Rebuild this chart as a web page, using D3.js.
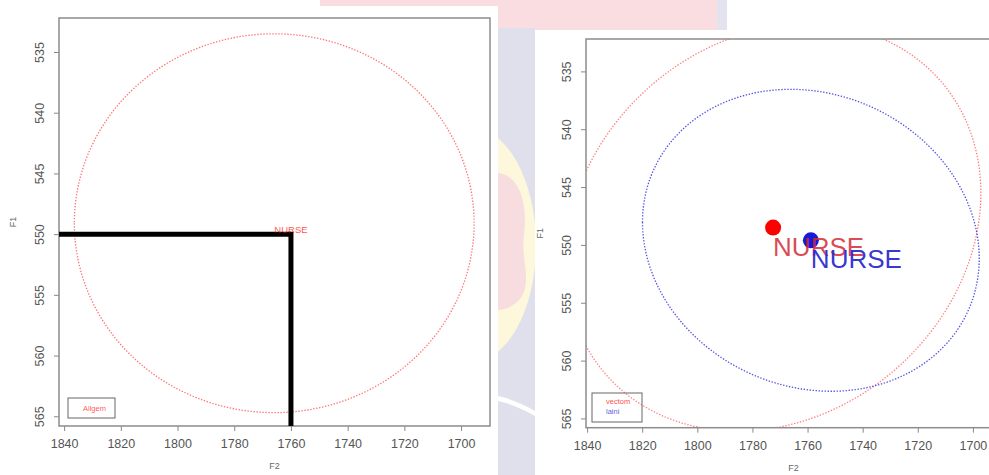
<!DOCTYPE html>
<html>
<head>
<meta charset="utf-8">
<script src="https://cdn.jsdelivr.net/npm/d3@7"></script>
<style>
  body { margin: 0; background: #fff; }
  svg { display: block; font-family: "Liberation Sans", Arial, sans-serif; }
</style>
</head>
<body>
<svg id="chart" width="989" height="475"></svg>
<script>
// ---- data ----
const f2Ticks = [1840, 1820, 1800, 1780, 1760, 1740, 1720, 1700];
const f1Ticks = [535, 540, 545, 550, 555, 560, 565];

// left panel: one speaker, NURSE vowel
const leftSpeakers = ["Allgem"];
const leftColors = ["#ff0000"];
const leftVowel = ["NURSE"];
const leftMeanF2 = [1760];
const leftMeanF1 = [550];
const leftEllF2 = [1765.9];   // ellipse centre
const leftEllF1 = [549.1];
const leftSdF2 = [70.5];      // ellipse half-extent along F2
const leftSdF1 = [15.6];      // ellipse half-extent along F1
const leftCorr = [0];

// right panel: two speakers, NURSE vowel
const rightSpeakers = ["vectom", "laini"];
const rightColors = ["#ff0000", "#1a1ad6"];
const rightTextColors = ["#d42a35", "#2b2bd0"];
const rightVowel = ["NURSE", "NURSE"];
const rightMeanF2 = [1772.5, 1758.8];
const rightMeanF1 = [548.5, 549.6];
const rightSdF2 = [75.4, 61.1];
const rightSdF1 = [17.6, 13.05];
const rightCorr = [0.17, -0.12];

const svg = d3.select("#chart");

// ---- backdrop ----
const bg = svg.append("g");
bg.append("rect").attr("x", 320).attr("y", 0).attr("width", 397).attr("height", 30).attr("fill", "#f9dde0");
bg.append("rect").attr("x", 717).attr("y", 0).attr("width", 10).attr("height", 30).attr("fill", "#e2e3ee");
bg.append("rect").attr("x", 498).attr("y", 28).attr("width", 37).attr("height", 447).attr("fill", "#dfe0eb");
bg.append("defs").append("clipPath").attr("id", "stripClip")
  .append("rect").attr("x", 498).attr("y", 28).attr("width", 37).attr("height", 447);
const strip = bg.append("g").attr("clip-path", "url(#stripClip)");
strip.append("ellipse").attr("cx", 470).attr("cy", 245).attr("rx", 66).attr("ry", 118).attr("fill", "#fdf8dc");
strip.append("path")
  .attr("d", "M498,173 C520,175 528,205 524,235 C521,258 530,275 524,292 C518,306 505,310 498,310 Z")
  .attr("fill", "#f8dde0");
strip.append("path")
  .attr("d", "M498,396 C512,399 525,405 535,411 L535,416 C525,410 512,404 498,401 Z")
  .attr("fill", "#ffffff");
bg.append("rect").attr("x", 0).attr("y", 6).attr("width", 498).attr("height", 469).attr("fill", "#fff");
bg.append("rect").attr("x", 535).attr("y", 30).attr("width", 454).attr("height", 445).attr("fill", "#fff");

// ---- helpers ----
function ellipsePoints(cf2, cf1, a, b, r) {
  const s = Math.sqrt(1 - r * r);
  return d3.range(0, 360, 2).map(deg => {
    const t = deg * Math.PI / 180;
    return [cf2 + a * Math.cos(t), cf1 + b * (r * Math.cos(t) + s * Math.sin(t))];
  });
}

function drawPanel(cfg) {
  const x = d3.scaleLinear().domain(cfg.xDomain).range(cfg.xRange);
  const y = d3.scaleLinear().domain([532.2, 565.8]).range(cfg.yRange);
  const [x0, x1] = cfg.xRange, [y0, y1] = cfg.yRange;
  const g = svg.append("g");

  const clipId = "clip" + cfg.id;
  g.append("defs").append("clipPath").attr("id", clipId)
    .append("rect").attr("x", x0).attr("y", y0).attr("width", x1 - x0).attr("height", y1 - y0);

  // axes
  const xAxis = g.append("g").attr("transform", `translate(0,${y1})`)
    .call(d3.axisBottom(x).tickValues(f2Ticks).tickFormat(d3.format("d")).tickSize(5).tickSizeOuter(0));
  const yAxis = g.append("g").attr("transform", `translate(${x0},0)`)
    .call(d3.axisLeft(y).tickValues(f1Ticks).tickFormat(d3.format("d")).tickSize(5).tickSizeOuter(0));
  [xAxis, yAxis].forEach(ax => {
    ax.select(".domain").remove();
    ax.selectAll(".tick line").attr("stroke", "#888");
    ax.selectAll("text").attr("fill", "#555").style("font-size", "12.5px");
  });
  xAxis.selectAll("text").attr("y", 13);
  yAxis.selectAll("text")
    .attr("x", null).attr("dy", "0.35em").attr("text-anchor", "middle")
    .attr("transform", "translate(-19,0) rotate(-90)");

  // axis titles
  g.append("text").attr("x", (x0 + x1) / 2).attr("y", y1 + 43).attr("text-anchor", "middle")
    .attr("fill", "#666").style("font-size", "9px").text("F2");
  g.append("text").attr("transform", `translate(${x0 - 46},${(y0 + y1) / 2}) rotate(-90)`)
    .attr("text-anchor", "middle").attr("dy", "0.35em").attr("fill", "#666").style("font-size", "9px").text("F1");

  const plot = g.append("g").attr("clip-path", `url(#${clipId})`);
  const line = d3.line().x(d => x(d[0])).y(d => y(d[1])).curve(d3.curveLinearClosed);

  // ellipses
  cfg.ellipses.forEach(e => {
    plot.append("path").attr("d", line(ellipsePoints(e.f2, e.f1, e.a, e.b, e.r)))
      .attr("fill", "none").attr("stroke", e.color).attr("stroke-width", 1.3)
      .attr("stroke-opacity", e.opacity).attr("stroke-dasharray", "1.4 1.6");
  });

  // box
  g.append("rect").attr("x", x0).attr("y", y0).attr("width", x1 - x0).attr("height", y1 - y0)
    .attr("fill", "none").attr("stroke", "#8c8c8c").attr("stroke-width", 1.5);

  return { g, plot, x, y };
}

// ---- left panel ----
const L = drawPanel({
  id: "L", xDomain: [1841.8, 1689.8], xRange: [59, 490], yRange: [18, 426],
  ellipses: leftSpeakers.map((s, i) => ({
    f2: leftEllF2[i], f1: leftEllF1[i], a: leftSdF2[i], b: leftSdF1[i], r: leftCorr[i],
    color: leftColors[i], opacity: 0.55
  }))
});

// reference lines from the axes to the NURSE mean
leftMeanF2.forEach((m, i) => {
  L.g.append("line")
    .attr("x1", L.x(L.x.domain()[0])).attr("x2", L.x(m))
    .attr("y1", L.y(leftMeanF1[i])).attr("y2", L.y(leftMeanF1[i]))
    .attr("stroke", "#000").attr("stroke-width", 5);
  L.g.append("line")
    .attr("x1", L.x(m)).attr("x2", L.x(m))
    .attr("y1", L.y(leftMeanF1[i]) - 2.5).attr("y2", L.y(L.y.domain()[1]))
    .attr("stroke", "#000").attr("stroke-width", 5);
  L.g.append("text").attr("x", L.x(m)).attr("y", L.y(leftMeanF1[i]) - 1)
    .attr("text-anchor", "middle").attr("fill", leftColors[i]).attr("fill-opacity", 0.7)
    .style("font-size", "9.5px").text(leftVowel[i]);
});

// legend
L.g.append("rect").attr("x", 68).attr("y", 398).attr("width", 47).attr("height", 20)
  .attr("fill", "none").attr("stroke", "#666").attr("stroke-width", 1);
leftSpeakers.forEach((s, i) => {
  L.g.append("text").attr("x", 83).attr("y", 410.5 + i * 10).attr("fill", leftColors[i])
    .attr("fill-opacity", 0.7).style("font-size", "7.5px").text(s);
});

// ---- right panel ----
const R = drawPanel({
  id: "R", xDomain: [1840.4, 1689.8], xRange: [586, 1001], yRange: [39, 427.7],
  ellipses: rightSpeakers.map((s, i) => ({
    f2: rightMeanF2[i], f1: rightMeanF1[i], a: rightSdF2[i], b: rightSdF1[i], r: rightCorr[i],
    color: rightColors[i], opacity: i === 0 ? 0.5 : 0.75
  }))
});

rightSpeakers.forEach((s, i) => {
  R.g.append("circle").attr("cx", R.x(rightMeanF2[i])).attr("cy", R.y(rightMeanF1[i])).attr("r", 8)
    .attr("fill", rightColors[i]);
});
rightSpeakers.forEach((s, i) => {
  R.g.append("text").attr("x", R.x(rightMeanF2[i])).attr("y", R.y(rightMeanF1[i]) + 28)
    .attr("fill", rightTextColors[i]).attr("fill-opacity", i === 0 ? 0.85 : 0.95)
    .style("font-size", "26px").text(rightVowel[i]);
});

R.g.append("rect").attr("x", 592).attr("y", 393).attr("width", 50).attr("height", 29)
  .attr("fill", "none").attr("stroke", "#666").attr("stroke-width", 1);
rightSpeakers.forEach((s, i) => {
  R.g.append("text").attr("x", 606).attr("y", 404 + i * 10).attr("fill", rightColors[i])
    .attr("fill-opacity", 0.75).style("font-size", "7.5px").text(s);
});
</script>
</body>
</html>
